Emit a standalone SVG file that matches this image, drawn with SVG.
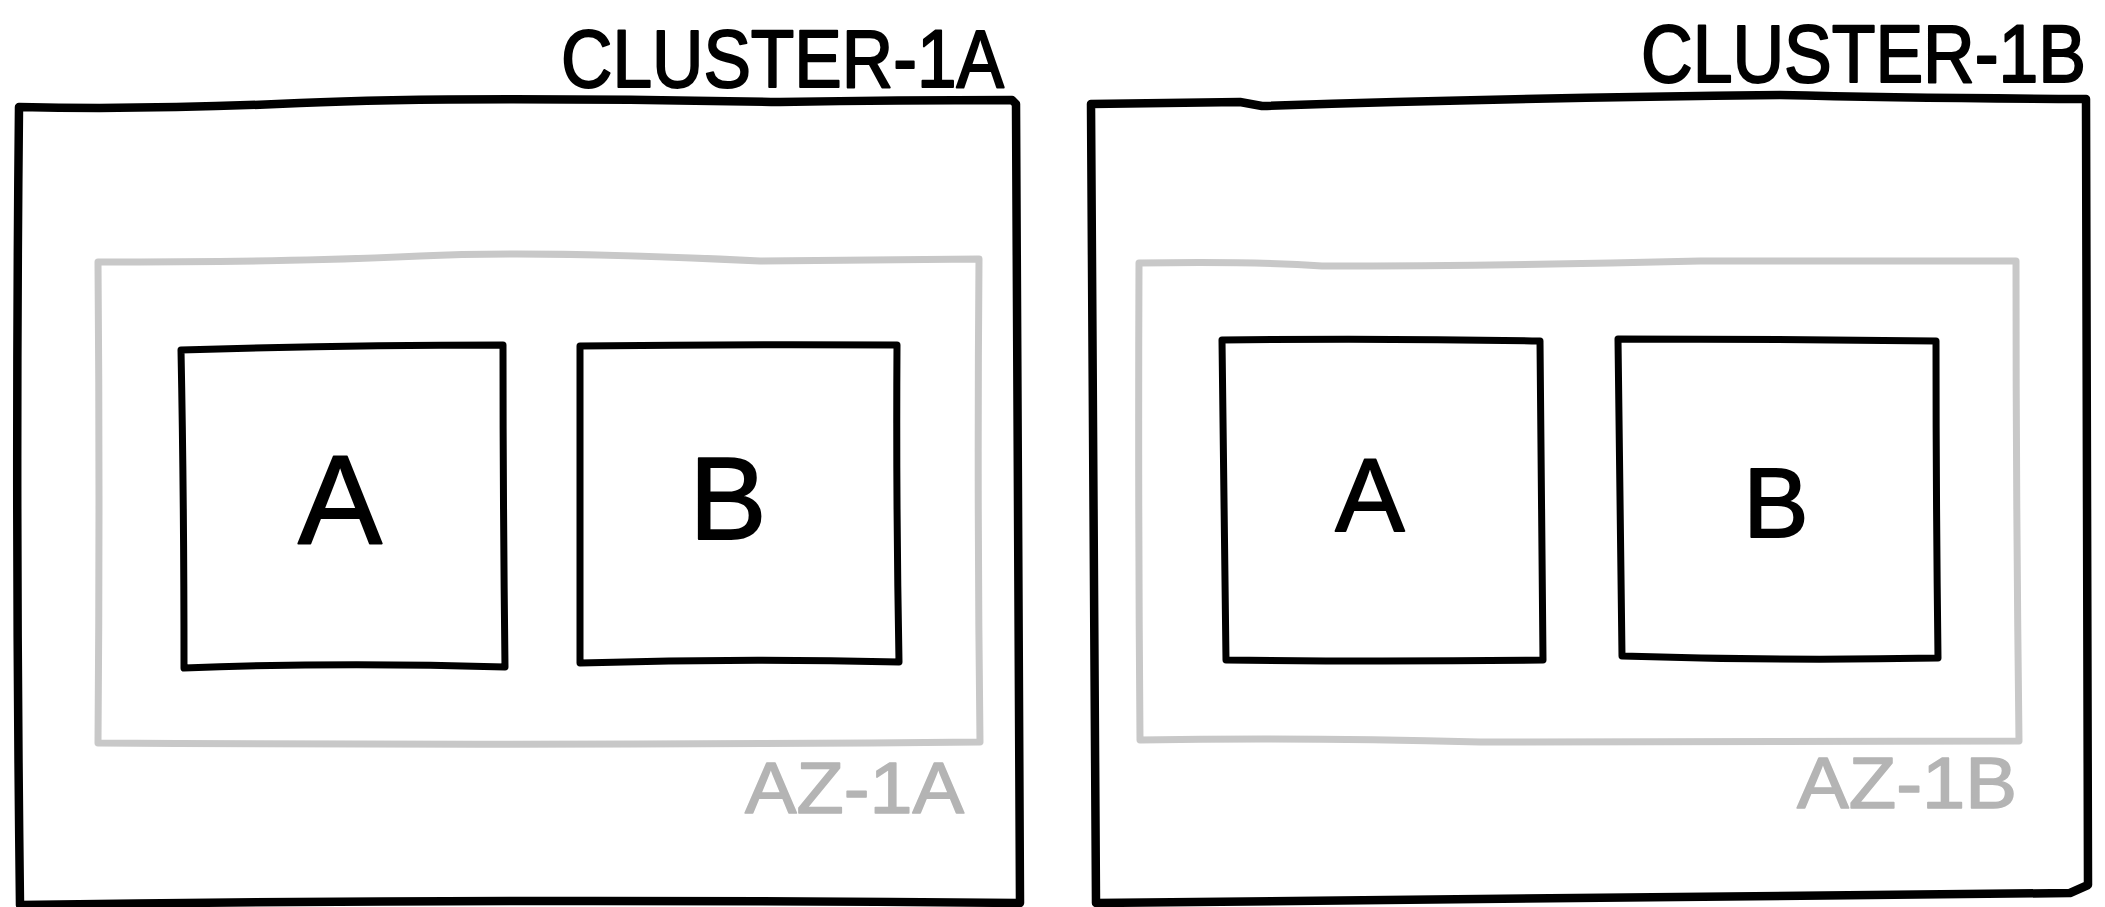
<svg xmlns="http://www.w3.org/2000/svg" width="2105" height="907" viewBox="0 0 2105 907">
<style>
.cl{fill:none;stroke:#000;stroke-width:8.5;stroke-linejoin:round;stroke-linecap:round}
.az{fill:none;stroke:#c8c8c8;stroke-width:7;stroke-linejoin:round;stroke-linecap:round}
.nd{fill:#fff;stroke:#000;stroke-width:7;stroke-linejoin:round;stroke-linecap:round}
.t{font-family:"Liberation Sans",sans-serif;fill:#000;stroke:#000;stroke-width:1.8;stroke-linejoin:round}
.tg{font-family:"Liberation Sans",sans-serif;fill:#b4b4b4;stroke:#b4b4b4;stroke-width:1.5;stroke-linejoin:round}
</style>
<rect width="2105" height="907" fill="#fff"/>
<g id="cluster-1a">
<path class="cl" d="M19,107 Q150,110 300,103 T780,102 Q900,100 1012,100 L1016,104 Q1017,500 1020,903 Q500,898 20,905 Q15,500 19,107 Z"/>
<text class="t" transform="translate(561,87) scale(1,1.14)" x="0" y="0" font-size="72" textLength="443" lengthAdjust="spacingAndGlyphs">CLUSTER-1A</text>
</g>
<g id="az-1a">
<path class="az" d="M98,262 Q300,262 420,256 T760,261 L979,259 Q977,500 980,742 Q540,746 98,743 Q100,500 98,262 Z"/>
<text class="tg" x="745" y="813" font-size="72" textLength="219" lengthAdjust="spacingAndGlyphs">AZ-1A</text>
</g>
<g id="node-a-1a">
<path class="nd" d="M181,350 Q340,345 503,345 Q503,500 505,667 Q340,662 184,668 Q184,500 181,350 Z"/>
<text class="t" x="340" y="543" font-size="126" text-anchor="middle">A</text>
</g>
<g id="node-b-1a">
<path class="nd" d="M580,346 Q740,344 897,345 Q896,500 899,662 Q740,658 580,663 Q580,500 580,346 Z"/>
<text class="t" x="728" y="539" font-size="116" text-anchor="middle">B</text>
</g>
<g id="cluster-1b">
<path class="cl" d="M1091,104 Q1180,103 1240,102 L1262,106 Q1500,98 1780,95 Q1900,98 2086,99 Q2087,500 2088,885 L2070,893 Q1600,898 1096,903 Q1094,500 1091,104 Z"/>
<text class="t" transform="translate(1641,82) scale(1,1.14)" x="0" y="0" font-size="72" textLength="445" lengthAdjust="spacingAndGlyphs">CLUSTER-1B</text>
</g>
<g id="az-1b">
<path class="az" d="M1139,263 Q1250,261 1322,266 Q1500,266 1700,261 L2016,261 Q2016,500 2019,741 Q1600,742 1480,742 Q1300,737 1140,740 Q1138,500 1139,263 Z"/>
<text class="tg" x="1797" y="808" font-size="72" textLength="220" lengthAdjust="spacingAndGlyphs">AZ-1B</text>
</g>
<g id="node-a-1b">
<path class="nd" d="M1222,340 Q1380,338 1540,341 Q1541,500 1543,660 Q1380,662 1226,660 Q1224,500 1222,340 Z"/>
<text class="t" x="1370" y="531" font-size="104" text-anchor="middle">A</text>
</g>
<g id="node-b-1b">
<path class="nd" d="M1618,339 Q1780,339 1936,341 Q1936,500 1938,658 Q1780,661 1622,656 Q1620,500 1618,339 Z"/>
<text class="t" x="1776" y="537" font-size="98" text-anchor="middle">B</text>
</g>
<g id="connectors"></g>
</svg>
